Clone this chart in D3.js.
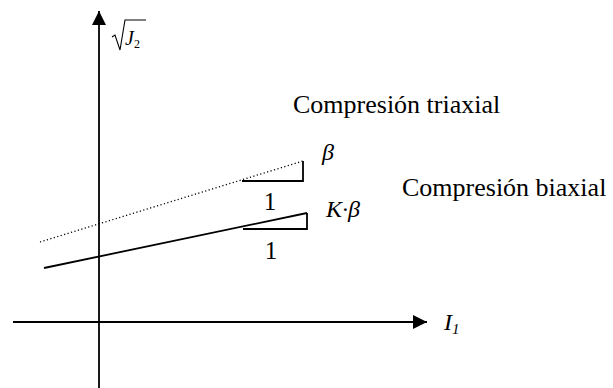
<!DOCTYPE html>
<html>
<head>
<meta charset="utf-8">
<script src="https://cdn.jsdelivr.net/npm/d3@7"></script>
<style>
  html, body { margin: 0; padding: 0; background: #fff; }
  svg { display: block; }
  text { font-family: "Liberation Serif", "Times New Roman", serif; fill: #000; }
</style>
</head>
<body>
<svg id="chart" width="613" height="388"></svg>
<script>
// Failure envelopes in the I1 – sqrt(J2) plane (endpoints of each drawn segment)
const envelopeNames = ["Compresión triaxial", "Compresión biaxial"];
const triaxialI1 = [-0.59, 2.04];
const triaxialJ  = [0.80, 1.61];
const biaxialI1  = [-0.55, 2.08];
const biaxialJ   = [0.54, 1.09];

// Slope triangles: [I1 start, I1 end] of the unit run and [J base, J top] of the rise
const triaxialRunI1 = [1.43, 2.04];
const triaxialRiseJ = [1.41, 1.61];
const biaxialRunI1  = [1.44, 2.08];
const biaxialRiseJ  = [0.93, 1.09];

const slopeLabels = ["β", "K·β"];
const runLabels = ["1", "1"];

const svg = d3.select("#chart");

const x = d3.scaleLinear().domain([-0.86, 3.28]).range([13, 427]);
const y = d3.scaleLinear().domain([-0.66, 3.11]).range([388, 11]);

// arrow heads
const defs = svg.append("defs");
defs.append("marker")
  .attr("id", "arrow")
  .attr("viewBox", "0 0 14 14")
  .attr("refX", 14).attr("refY", 7)
  .attr("markerWidth", 14).attr("markerHeight", 14)
  .attr("markerUnits", "userSpaceOnUse")
  .attr("orient", "auto")
  .append("path")
  .attr("d", "M0,0 L14,7 L0,14 Z")
  .attr("fill", "#000");

// axes
svg.append("line")
  .attr("x1", x(-0.86)).attr("y1", y(0))
  .attr("x2", x(3.28)).attr("y2", y(0))
  .attr("stroke", "#000").attr("stroke-width", 1.8)
  .attr("marker-end", "url(#arrow)");

svg.append("line")
  .attr("x1", x(0)).attr("y1", y(-0.66))
  .attr("x2", x(0)).attr("y2", y(3.11))
  .attr("stroke", "#000").attr("stroke-width", 1.8)
  .attr("marker-end", "url(#arrow)");

// envelope lines
const lineGen = d3.line().x(d => x(d[0])).y(d => y(d[1]));

svg.append("path")
  .attr("d", lineGen(d3.zip(triaxialI1, triaxialJ)))
  .attr("fill", "none").attr("stroke", "#000")
  .attr("stroke-width", 1.3)
  .attr("stroke-dasharray", "1.2,2.4");

svg.append("path")
  .attr("d", lineGen(d3.zip(biaxialI1, biaxialJ)))
  .attr("fill", "none").attr("stroke", "#000")
  .attr("stroke-width", 1.8);

// slope triangles (run + rise legs)
[[triaxialRunI1, triaxialRiseJ], [biaxialRunI1, biaxialRiseJ]].forEach(([run, rise]) => {
  svg.append("path")
    .attr("d", lineGen([[run[0], rise[0]], [run[1], rise[0]], [run[1], rise[1]]]))
    .attr("fill", "none").attr("stroke", "#000")
    .attr("stroke-width", 1.8);
});

// run labels "1"
svg.append("text").attr("x", x(1.71)).attr("y", y(1.12))
  .attr("text-anchor", "middle").attr("font-size", 25).text(runLabels[0]);
svg.append("text").attr("x", x(1.72)).attr("y", y(0.63))
  .attr("text-anchor", "middle").attr("font-size", 25).text(runLabels[1]);

// slope labels
svg.append("text").attr("x", 322).attr("y", 160)
  .attr("font-size", 24).attr("font-style", "italic").text(slopeLabels[0]);
svg.append("text").attr("x", 326).attr("y", 217)
  .attr("font-size", 24).attr("font-style", "italic").text(slopeLabels[1]);

// envelope names
svg.append("text").attr("x", 293).attr("y", 113)
  .attr("font-size", 26).text(envelopeNames[0]);
svg.append("text").attr("x", 402).attr("y", 196)
  .attr("font-size", 26).text(envelopeNames[1]);

// I1 axis label
const i1 = svg.append("text").attr("x", 444).attr("y", 330)
  .attr("font-size", 24).attr("font-style", "italic");
i1.append("tspan").text("I");
i1.append("tspan").attr("font-size", 15).attr("dy", 4).text("1");

// sqrt(J2) axis label
svg.append("path")
  .attr("d", "M112,37 L115,35 L120,50 L125,20 L146,20")
  .attr("fill", "none").attr("stroke", "#000").attr("stroke-width", 1.1);
const j2 = svg.append("text").attr("x", 125).attr("y", 45)
  .attr("font-size", 20).attr("font-style", "italic");
j2.append("tspan").text("J");
j2.append("tspan").attr("font-size", 12).attr("font-style", "normal").attr("dy", 3).text("2");
</script>
</body>
</html>
